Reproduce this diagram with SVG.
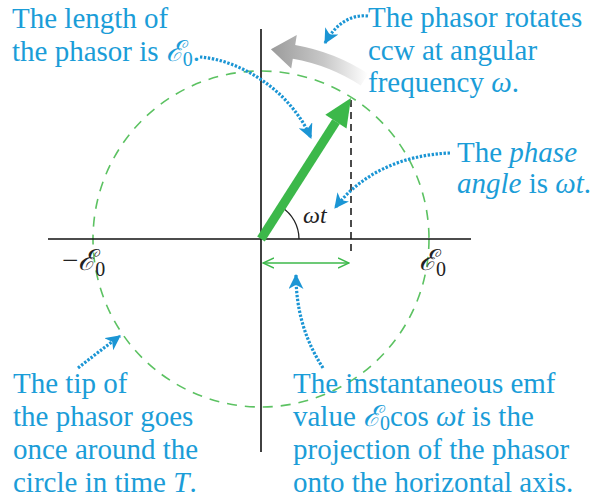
<svg xmlns="http://www.w3.org/2000/svg" width="593" height="501" viewBox="0 0 593 501">
<style>
.lbl{font-family:"Liberation Serif","DejaVu Serif",serif;font-size:29px;fill:#1b9dd8}
.blk{font-family:"Liberation Serif","DejaVu Serif",serif;fill:#222}
.it{font-style:italic}
.axis{stroke:#111;stroke-width:1.6;fill:none}
.lead{stroke:#1b95d4;stroke-width:3.2;fill:none;stroke-dasharray:2.4 1.6;marker-end:url(#bh)}
</style>
<defs>
<marker id="bh" markerUnits="userSpaceOnUse" viewBox="0 0 14 14" markerWidth="15" markerHeight="15" refX="13" refY="7" orient="auto">
<path d="M0,0 L14,7 L0,14 L4,7 Z" fill="#1b95d4"/>
</marker>
<marker id="ga" markerUnits="userSpaceOnUse" viewBox="0 0 12 12" markerWidth="12" markerHeight="12" refX="11" refY="6" orient="auto-start-reverse">
<path d="M0,1 L11,6 L0,11" fill="none" stroke="#3cb84a" stroke-width="1.5"/>
</marker>
<linearGradient id="gg" x1="270" y1="0" x2="368" y2="0" gradientUnits="userSpaceOnUse">
<stop offset="0" stop-color="#9a9a9a"/>
<stop offset="0.55" stop-color="#c8c8c8"/>
<stop offset="1" stop-color="#ffffff"/>
</linearGradient>
</defs>
<rect width="593" height="501" fill="#fff"/>

<g id="rotation-arrow">
<path d="M360.7 85.5 A183 183 0 0 0 292.8 58.8 L291.2 68.6 L270.9 49.3 L296.8 35.1 L295.2 45.0 A197 197 0 0 1 368.3 73.8 Z" fill="url(#gg)"/>
</g>

<g id="circle">
<circle cx="261" cy="239" r="168" fill="none" stroke="#5cc262" stroke-width="1.6" stroke-dasharray="10 8"/>
</g>

<g id="axes">
<line class="axis" x1="48" y1="239" x2="471" y2="239"/>
<line class="axis" x1="261" y1="29" x2="261" y2="452"/>
</g>

<g id="projection">
<line x1="351" y1="100" x2="351" y2="252" stroke="#111" stroke-width="1.5" stroke-dasharray="7 5"/>
<line x1="263" y1="263" x2="349" y2="263" stroke="#3cb84a" stroke-width="1.5" marker-start="url(#ga)" marker-end="url(#ga)"/>
</g>

<g id="angle">
<path d="M299 239 A38 38 0 0 0 281.4 207" fill="none" stroke="#222" stroke-width="1.3"/>
<text class="blk it" x="303" y="223" font-size="24">ωt</text>
</g>

<g id="phasor">
<line x1="261" y1="239" x2="336" y2="121.6" stroke="#3cb84a" stroke-width="9"/>
<path d="M351 98 L346.5 128.6 L325.3 114.8 Z" fill="#3cb84a"/>
</g>

<g id="axis-labels">
<text class="blk" x="62" y="270" font-size="29">−<tspan class="it">ℰ</tspan><tspan font-size="20" dy="6">0</tspan></text>
<text class="blk" x="419" y="270" font-size="29"><tspan class="it">ℰ</tspan><tspan font-size="20" dy="6">0</tspan></text>
</g>

<g id="connectors">
<path class="lead" d="M200 57 C240 60 290 90 311 138"/>
<path class="lead" d="M368 16 C350 14 335 25 325 43"/>
<path class="lead" d="M450 153 C400 155 360 175 335 208"/>
<path class="lead" d="M78 368 C92 357 105 347 120 336"/>
<path class="lead" d="M323 368 C305 340 296 310 296 275"/>
</g>

<g id="note-length">
<text class="lbl" x="12" y="28">The length of</text>
<text class="lbl" x="12" y="61">the phasor is <tspan class="it">ℰ</tspan><tspan font-size="20" dy="5">0</tspan><tspan dy="-5">.</tspan></text>
</g>

<g id="note-rotates">
<text class="lbl" x="368" y="27">The phasor rotates</text>
<text class="lbl" x="368" y="60">ccw at angular</text>
<text class="lbl" x="368" y="92">frequency <tspan class="it">ω</tspan>.</text>
</g>

<g id="note-phase">
<text class="lbl" x="457" y="162">The <tspan class="it">phase</tspan></text>
<text class="lbl" x="457" y="193"><tspan class="it">angle</tspan> is <tspan class="it">ωt</tspan>.</text>
</g>

<g id="note-tip">
<text class="lbl" x="13" y="393">The tip of</text>
<text class="lbl" x="13" y="426">the phasor goes</text>
<text class="lbl" x="13" y="459">once around the</text>
<text class="lbl" x="13" y="492">circle in time <tspan class="it">T</tspan>.</text>
</g>

<g id="note-emf">
<text class="lbl" x="293" y="393">The instantaneous emf</text>
<text class="lbl" x="293" y="426">value <tspan class="it">ℰ</tspan><tspan font-size="20" dy="4">0</tspan><tspan dy="-4">cos</tspan><tspan class="it"> ωt</tspan> is the</text>
<text class="lbl" x="293" y="459">projection of the phasor</text>
<text class="lbl" x="293" y="492">onto the horizontal axis.</text>
</g>
</svg>
